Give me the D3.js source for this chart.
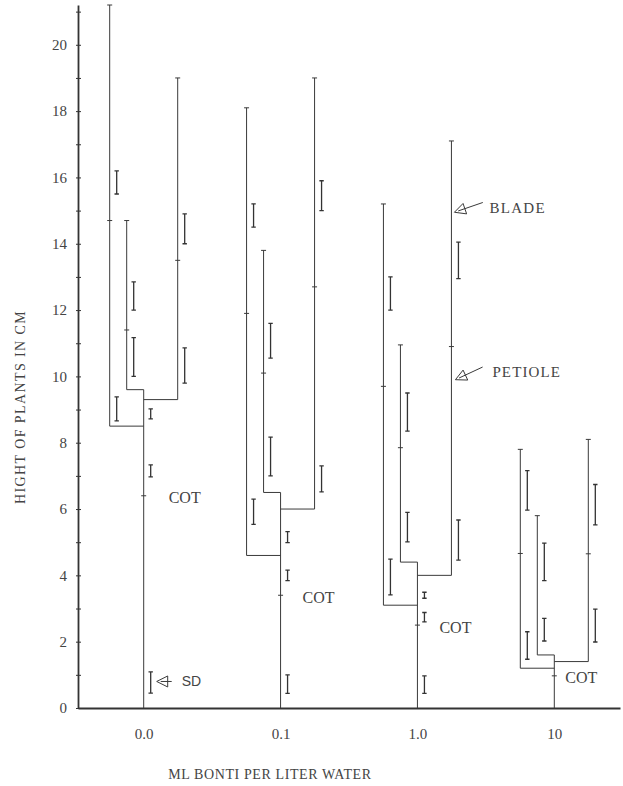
<!DOCTYPE html>
<meta charset="utf-8">
<style>
body { margin: 0; background: #fff; }
svg { display: block; }
text { font-family: "Liberation Serif", "DejaVu Serif", serif; fill: #444; }
.ln { stroke: #3a3a3a; stroke-width: 1px; fill: none; }
.sd { stroke: #333; stroke-width: 1.3px; fill: none; }
</style>
<body>
<script src="https://cdn.jsdelivr.net/npm/d3@7"></script>
<script>

var width = 623,
    height = 786;

// ml Bonti per liter water
var concentrations = ["0.0", "0.1", "1.0", "10"];
// cotyledon node on the stem (cm)
var cotHeight = [6.4, 3.4, 2.5, 0.97];
// three leaves per treatment: base of petiole, petiole/blade junction, tip of blade
var leafBase   = [[8.5, 9.6, 9.3], [4.6, 6.5, 6.0], [3.1, 4.4, 4.0], [1.2, 1.6, 1.4]];
var petioleTop = [[14.7, 11.4, 13.5], [11.9, 10.1, 12.7], [9.7, 7.85, 10.9], [4.66, null, 4.65]];
var bladeTop   = [[21.2, 14.7, 19.0], [18.1, 13.8, 19.0], [15.2, 10.95, 17.1], [7.8, 5.8, 8.1]];
// standard deviations drawn as [low, high]
var bladeSD = [
  [[15.5, 16.2], [12.0, 12.85], [14.0, 14.9]],
  [[14.5, 15.2], [10.55, 11.6], [15.0, 15.9]],
  [[12.0, 13.0], [8.35, 9.5], [12.95, 14.05]],
  [[5.97, 7.16], [3.84, 4.97], [5.52, 6.74]]
];
var petioleSD = [
  [[8.66, 9.38], [10.0, 11.17], [9.8, 10.86]],
  [[5.54, 6.3], [7.0, 8.17], [6.52, 7.3]],
  [[3.41, 4.49], [5.01, 5.9], [4.46, 5.67]],
  [[1.47, 2.3], [2.02, 2.7], [1.99, 2.98]]
];
var stemSD = [
  [[8.72, 9.02], [6.97, 7.33], [0.45, 1.09]],
  [[4.99, 5.32], [3.84, 4.16], [0.44, 1.0]],
  [[3.31, 3.49], [2.6, 2.88], [0.44, 0.97]],
  []
];
var yTicks = d3.range(0, 22);

var svg = d3.select("body").append("svg")
    .attr("width", width)
    .attr("height", height);

var x = d3.scalePoint()
    .domain(concentrations)
    .range([78, 620])
    .padding(0.48);

var y = d3.scaleLinear()
    .domain([0, 21.2])
    .range([708, 5]);

// leaf position relative to its stem
var leafOff = d3.scaleOrdinal().domain([0, 1, 2]).range([-34, -17, 34]);

// axes
var yAxis = d3.axisLeft(y)
    .tickValues(yTicks)
    .tickFormat(function(d) { return d % 2 === 0 ? d : ""; })
    .tickSize(3)
    .tickSizeOuter(0)
    .tickPadding(8);

var gy = svg.append("g")
    .attr("transform", "translate(78,0)")
    .call(yAxis);
gy.select(".domain").attr("stroke", "#333").attr("stroke-width", 1.8);
gy.selectAll(".tick line").attr("stroke", "#333").attr("x2", 3).attr("x1", -2);
gy.selectAll(".tick text").style("font-size", "15px").attr("fill", "#444");
gy.attr("font-family", null);

var xAxis = d3.axisBottom(x)
    .tickSize(0)
    .tickSizeOuter(0)
    .tickPadding(20);

var gx = svg.append("g")
    .attr("transform", "translate(0,708)")
    .call(xAxis);
gx.select(".domain").attr("stroke", "#333").attr("stroke-width", 1.8);
gx.selectAll(".tick text").style("font-size", "15px").attr("fill", "#444");
gx.attr("font-family", null);

svg.append("text")
    .attr("x", 270)
    .attr("y", 779)
    .attr("text-anchor", "middle")
    .style("font-size", "14px")
    .style("letter-spacing", "0.6px")
    .text("ML BONTI PER LITER WATER");

svg.append("text")
    .attr("transform", "translate(25,407) rotate(-90)")
    .attr("text-anchor", "middle")
    .style("font-size", "14px")
    .style("letter-spacing", "1.4px")
    .text("HIGHT OF PLANTS IN CM");

function errorBar(g, cx, lo, hi) {
  var cap = 2.2;
  g.append("path")
      .attr("class", "sd")
      .attr("d", "M" + (cx - cap) + "," + y(hi) + "H" + (cx + cap) +
                 "M" + cx + "," + y(hi) + "V" + y(lo) +
                 "M" + (cx - cap) + "," + y(lo) + "H" + (cx + cap));
}

function tick(g, cx, v) {
  g.append("line").attr("class", "ln")
      .attr("x1", cx - 2.5).attr("x2", cx + 2.5)
      .attr("y1", y(v)).attr("y2", y(v));
}

// hollow triangle head at (tx,ty), tail running off at angle a (degrees)
function arrow(g, tx, ty, a, len) {
  var r = a * Math.PI / 180,
      ux = Math.cos(r), uy = Math.sin(r),
      px = -uy, py = ux;
  var bx = tx + ux * 11, by = ty + uy * 11;
  g.append("path").attr("class", "ln")
      .attr("stroke-width", 1.3)
      .attr("d", "M" + tx + "," + ty +
                 "L" + (bx + px * 5.5) + "," + (by + py * 5.5) +
                 "L" + (bx - px * 5.5) + "," + (by - py * 5.5) + "Z" +
                 "M" + (tx + ux * 4) + "," + (ty + uy * 4) +
                 "L" + (tx + ux * len) + "," + (ty + uy * len));
}

var cotDx = [25, 22, 22, 11];

concentrations.forEach(function(c, i) {
  var g = svg.append("g");
  var sx = x(c);
  var stemTop = d3.max(leafBase[i]);

  // main stem
  g.append("line").attr("class", "ln")
      .attr("x1", sx).attr("x2", sx)
      .attr("y1", y(0)).attr("y2", y(stemTop));
  tick(g, sx, cotHeight[i]);

  leafBase[i].forEach(function(b, j) {
    var lx = sx + leafOff(j);
    // branch from stem, then petiole + blade
    g.append("path").attr("class", "ln")
        .attr("d", "M" + sx + "," + y(b) + "H" + lx + "V" + y(bladeTop[i][j]));
    g.append("line").attr("class", "ln")
        .attr("x1", lx - 2.5).attr("x2", lx + 2.5)
        .attr("y1", y(bladeTop[i][j])).attr("y2", y(bladeTop[i][j]));
    if (petioleTop[i][j] != null) tick(g, lx, petioleTop[i][j]);
    errorBar(g, lx + 7, bladeSD[i][j][0], bladeSD[i][j][1]);
    errorBar(g, lx + 7, petioleSD[i][j][0], petioleSD[i][j][1]);
  });

  stemSD[i].forEach(function(s) {
    errorBar(g, sx + 7, s[0], s[1]);
  });

  g.append("text")
      .attr("x", sx + cotDx[i])
      .attr("y", y(cotHeight[i]) + 2)
      .attr("dy", "0.35em")
      .style("font-size", "16px")
      .text("COT");
});

// annotations
var ann = svg.append("g");
var bx = x("1.0") + leafOff(2) + 3;
arrow(ann, bx, y(14.95), -19, 30);
ann.append("text").attr("x", bx + 35).attr("y", y(15.1)).attr("dy", "0.35em")
    .style("font-size", "15px").style("letter-spacing", "1.3px").text("BLADE");
arrow(ann, bx + 1, y(9.9), -25, 30);
ann.append("text").attr("x", bx + 38).attr("y", y(10.15)).attr("dy", "0.35em")
    .style("font-size", "15px").style("letter-spacing", "1.1px").text("PETIOLE");
var sdx = x("0.0") + 13;
arrow(ann, sdx, y(0.8), 0, 15);
ann.append("text").attr("x", sdx + 25).attr("y", y(0.8)).attr("dy", "0.35em")
    .style("font-size", "14px")
    .style("font-family", "'Liberation Sans', sans-serif")
    .text("SD");

</script>
